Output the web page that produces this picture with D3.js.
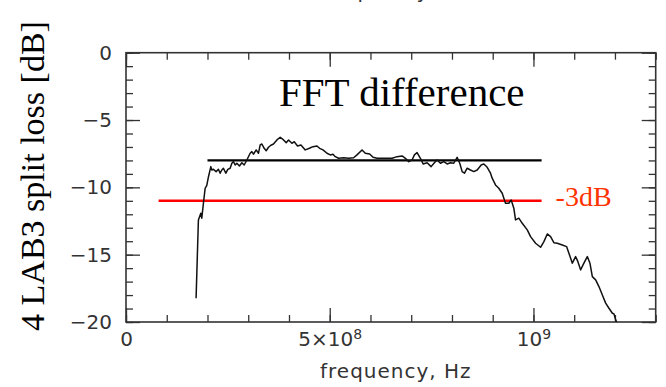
<!DOCTYPE html>
<html>
<head>
<meta charset="utf-8">
<script src="https://cdn.jsdelivr.net/npm/d3@7"></script>
<style>
  html, body { margin: 0; padding: 0; background: #fff; }
  svg { display: block; }
</style>
</head>
<body>
<div id="chart"></div>
<script>
// frequency in MHz, loss in dB
const freqMHz = [
  172, 177.7, 183.6, 186, 190, 194.2, 198.3, 202.3, 208.2, 210.6,
  214.5, 221.2, 226.8, 231, 235.2, 239.1, 245, 249.9, 255.6, 259.8,
  263.7, 267.9, 272.1, 278.4, 284.3, 290, 296.6, 304.7, 308.9, 312.8,
  319.5, 325.1, 329.3, 333.5, 339.1, 344.1, 349.7, 355.6, 362, 370.4,
  378.5, 386.6, 393.2, 398.9, 407.2, 412.9, 421, 429.4, 439.9, 450.2,
  458.8, 468.7, 475.1, 483.4, 493.3, 501.4, 508, 513.6, 521.8, 534,
  546.3, 558.6, 566.9, 579.3, 587.4, 598, 606.3, 616.1, 632.3, 653,
  665.3, 677.6, 685.7, 693.8, 702.1, 707.8, 714.4, 722.5, 729.2, 739,
  748.8, 756.9, 763.6, 771.7, 779.8, 788.2, 796.3, 804.4, 812.7, 819.1,
  825, 830.7, 837.3, 845.4, 853.5, 861.9, 871.7, 878.1, 886.5, 894.6,
  898.7, 906.8, 914.9, 923.3, 931.4, 939.5, 945.4, 951.8, 956, 964.1,
  972.5, 984.8, 992.9, 1005.2, 1017.5, 1025.6, 1033.9, 1042, 1050.1, 1058.5,
  1070.8, 1081.3, 1087, 1095.4, 1103.4, 1109.1, 1115.7, 1123.8, 1132.2, 1138.6,
  1144.5, 1152.6, 1160.7, 1169.1, 1177.2, 1185.3, 1193.7, 1197.6, 1201.8, 1204.2
];
const lossDb = [
  -18.23, -12.42, -11.92, -12.29, -11.18, -10.07, -9.86, -9.23, -8.46, -8.71,
  -8.66, -8.83, -8.66, -8.95, -8.71, -8.58, -8.95, -8.66, -8.58, -8.21,
  -8.09, -8.34, -8.21, -8.41, -8.17, -8.34, -7.97, -7.47, -7.35, -7.54,
  -7.22, -7.47, -6.85, -6.78, -7.1, -7.28, -7.02, -6.87, -6.78, -6.48,
  -6.28, -6.48, -6.68, -6.48, -6.73, -6.61, -6.93, -6.85, -7.22, -7.1,
  -6.98, -6.93, -7.1, -7.22, -7.47, -7.59, -7.54, -7.72, -7.84, -7.8,
  -7.84, -7.8, -7.59, -7.22, -7.47, -7.52, -7.77, -7.84, -7.84, -7.84,
  -7.72, -7.67, -7.84, -8.09, -7.97, -7.59, -7.42, -7.84, -8.26, -8.17,
  -8.46, -8.17, -7.97, -8.21, -8.09, -8.26, -8.17, -8.21, -7.77, -8.21,
  -8.83, -8.95, -8.58, -8.71, -8.83, -8.71, -8.34, -8.26, -8.51, -8.95,
  -9.32, -9.82, -10.07, -10.44, -11.18, -11.18, -10.94, -11.55, -12.42, -12.29,
  -12.67, -13.16, -13.66, -14.15, -14.45, -14.03, -13.46, -13.66, -14.11, -14.15,
  -14.28, -14.4, -14.89, -15.63, -15.14, -15.52, -16.13, -15.63, -15.14, -15.63,
  -16.63, -16.87, -17.37, -17.99, -18.6, -18.98, -19.35, -19.4, -19.84, -20
];

// horizontal reference levels: [start Hz, end Hz, level dB]
const flatLevel = [2e8, 1.02e9, -8];
const halfPowerLevel = [0.8e8, 1.02e9, -11];
const halfPowerLabel = '-3dB';
const title = 'FFT difference';

const xMajorTicks = [0, 5e8, 1e9];
const xTickBase = ['0', '5×10', '10'];
const xTickExp = ['', '8', '9'];
const yMajorTicks = [0, -5, -10, -15, -20];
const xLabel = 'frequency, Hz';
const yLabel = '4 LAB3 split loss [dB]';

const width = 666, height = 387;
const margin = { top: 52.7, right: 10.3, bottom: 65, left: 126 };
const w = width - margin.left - margin.right;
const h = height - margin.top - margin.bottom;

const svg = d3.select('#chart').append('svg')
  .attr('width', width)
  .attr('height', height);

// the x label of the panel above, cut off at the top edge
svg.append('text')
  .attr('x', margin.left + w / 2 + 5)
  .attr('y', -2)
  .attr('text-anchor', 'middle')
  .attr('font-family', 'DejaVu Sans')
  .attr('font-size', 20)
  .attr('letter-spacing', 1)
  .attr('fill', '#333')
  .text(xLabel);

const g = svg.append('g')
  .attr('transform', `translate(${margin.left},${margin.top})`);

const x = d3.scaleLinear().domain([0, 1.3e9]).range([0, w]);
const y = d3.scaleLinear().domain([-20, 0]).range([h, 0]);

const minorX = d3.range(0, 1.3e9 + 1, 1e8);
const minorY = d3.range(-20, 0.5, 1);

const axisStyle = sel => {
  sel.select('.domain').remove();
  sel.selectAll('line').attr('stroke', '#333').attr('stroke-width', 1.3);
  sel.selectAll('text')
    .attr('font-family', 'DejaVu Sans')
    .attr('font-size', 20)
    .attr('fill', '#333');
};

// minor ticks on all sides
g.append('g').attr('transform', `translate(0,${h})`)
  .call(d3.axisBottom(x).tickValues(minorX).tickSize(-7).tickFormat(''))
  .call(axisStyle);
g.append('g')
  .call(d3.axisTop(x).tickValues(minorX).tickSize(-7).tickFormat(''))
  .call(axisStyle);
g.append('g')
  .call(d3.axisLeft(y).tickValues(minorY).tickSize(-7).tickFormat(''))
  .call(axisStyle);
g.append('g').attr('transform', `translate(${w},0)`)
  .call(d3.axisRight(y).tickValues(minorY).tickSize(-7).tickFormat(''))
  .call(axisStyle);

// major ticks
const xAxis = g.append('g').attr('transform', `translate(0,${h})`)
  .call(d3.axisBottom(x).tickValues(xMajorTicks).tickSize(-14).tickPadding(10))
  .call(axisStyle);
xAxis.selectAll('.tick text').each(function(d, i) {
  const t = d3.select(this).text('');
  t.append('tspan').text(xTickBase[i]);
  if (xTickExp[i]) {
    t.append('tspan').attr('font-size', 14).attr('dy', '-0.55em').text(xTickExp[i]);
  }
});
g.append('g')
  .call(d3.axisTop(x).tickValues(xMajorTicks).tickSize(-14).tickFormat(''))
  .call(axisStyle);
g.append('g')
  .call(d3.axisLeft(y).tickValues(yMajorTicks).tickSize(-14).tickPadding(14))
  .call(axisStyle);
g.append('g').attr('transform', `translate(${w},0)`)
  .call(d3.axisRight(y).tickValues(yMajorTicks).tickSize(-14).tickFormat(''))
  .call(axisStyle);

// frame
g.append('rect')
  .attr('width', w).attr('height', h)
  .attr('fill', 'none')
  .attr('stroke', '#333')
  .attr('stroke-width', 1.6);

// reference levels
const levels = [
  { l: flatLevel, color: '#000' },
  { l: halfPowerLevel, color: '#ff0000' }
];
g.selectAll('.level')
  .data(levels)
  .enter().append('line')
  .attr('class', 'level')
  .attr('x1', d => x(d.l[0]))
  .attr('x2', d => x(d.l[1]))
  .attr('y1', d => y(d.l[2]))
  .attr('y2', d => y(d.l[2]))
  .attr('stroke', d => d.color)
  .attr('stroke-width', 2.4);

// measured curve
const data = freqMHz.map((f, i) => ({ f: f * 1e6, v: lossDb[i] }));
const line = d3.line().x(d => x(d.f)).y(d => y(d.v));
g.append('path')
  .datum(data)
  .attr('fill', 'none')
  .attr('stroke', '#111')
  .attr('stroke-width', 1.5)
  .attr('stroke-linejoin', 'round')
  .attr('d', line);

// annotations
g.append('text')
  .attr('x', x(halfPowerLevel[1]) + 14)
  .attr('y', y(halfPowerLevel[2]) + 5)
  .attr('font-family', 'Liberation Serif')
  .attr('font-size', 28)
  .attr('fill', '#ff3300')
  .text(halfPowerLabel);

g.append('text')
  .attr('x', 279 - margin.left)
  .attr('y', 106 - margin.top)
  .attr('font-family', 'Liberation Serif')
  .attr('font-size', 41)
  .attr('fill', '#000')
  .text(title);

// axis titles
svg.append('text')
  .attr('x', margin.left + w / 2 + 5)
  .attr('y', 378)
  .attr('text-anchor', 'middle')
  .attr('font-family', 'DejaVu Sans')
  .attr('font-size', 20)
  .attr('letter-spacing', 1)
  .attr('fill', '#333')
  .text(xLabel);

svg.append('text')
  .attr('transform', 'translate(44,176) rotate(-90)')
  .attr('text-anchor', 'middle')
  .attr('font-family', 'Liberation Serif')
  .attr('font-size', 34)
  .attr('fill', '#000')
  .text(yLabel);
</script>
</body>
</html>
